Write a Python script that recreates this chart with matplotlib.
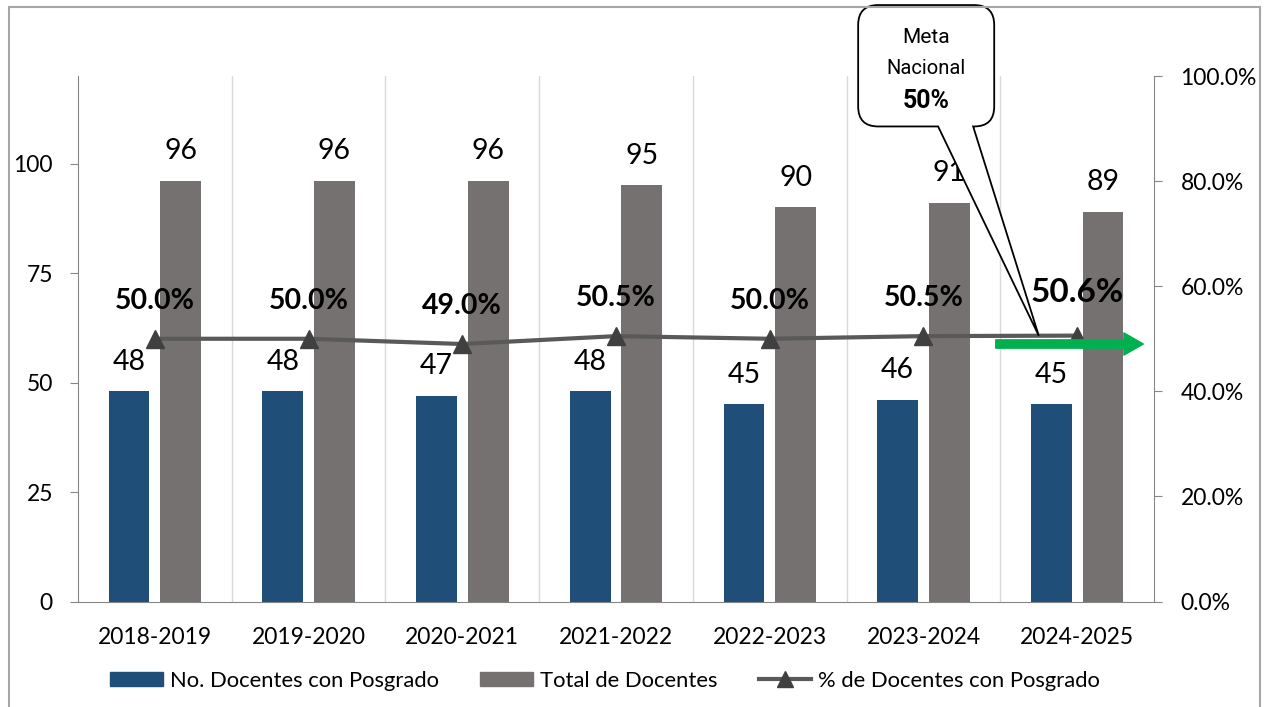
import numpy as np
import matplotlib
matplotlib.use('Agg')
import matplotlib.pyplot as plt
from matplotlib.patches import Rectangle, PathPatch, FancyArrowPatch, Patch
from matplotlib.lines import Line2D
from matplotlib.path import Path
from matplotlib.ticker import PercentFormatter

plt.rcParams['font.family'] = ['Lato', 'DejaVu Sans']

periodos = ['2018-2019', '2019-2020', '2020-2021', '2021-2022', '2022-2023', '2023-2024', '2024-2025']
docentes_posgrado = [48, 48, 47, 48, 45, 46, 45]
total_docentes = [96, 96, 96, 95, 90, 91, 89]
pct_posgrado = [0.500, 0.500, 0.490, 0.505, 0.500, 0.505, 0.506]
pct_labels = ['50.0%', '50.0%', '49.0%', '50.5%', '50.0%', '50.5%', '50.6%']

COLOR_AZUL = '#1F4E79'
COLOR_GRIS = '#767171'
COLOR_LINEA = '#595959'
COLOR_EJE = '#868686'

fig = plt.figure(figsize=(12.66, 7.07), dpi=100)
ax = fig.add_axes([0.0616, 0.1492, 0.85, 0.7433])
x = np.arange(len(periodos))
w = 0.265
off = 0.168

ax.bar(x - off, docentes_posgrado, w, color=COLOR_AZUL, zorder=2)
ax.bar(x + off, total_docentes, w, color=COLOR_GRIS, zorder=2)
for xi, v in zip(x, docentes_posgrado):
    ax.text(xi - off, v + 6.8, str(v), ha='center', va='center', fontsize=20.5)
for xi, v in zip(x, total_docentes):
    ax.text(xi + off, v + 6.8, str(v), ha='center', va='center', fontsize=20.5)

for b in np.arange(0.5, len(periodos) - 0.5):
    ax.axvline(b, color='#D9D9D9', lw=1, zorder=1)

ax.set_xlim(-0.5, len(periodos) - 0.5)
ax.set_ylim(0, 120)
ax.set_yticks([0, 25, 50, 75, 100])
ax.set_xticks(x)
ax.set_xticklabels(periodos, fontsize=16.5)
ax.tick_params(axis='x', length=0, pad=18)
ax.tick_params(axis='y', length=6, color=COLOR_EJE, labelsize=16.5, pad=12)
ax.spines['top'].set_visible(False)
ax.spines['right'].set_visible(False)
for s in ['left', 'bottom']:
    ax.spines[s].set_color(COLOR_EJE)

ax2 = ax.twinx()
ax2.plot(x, pct_posgrado, color=COLOR_LINEA, lw=3, marker='^', ms=13,
         mfc='#404040', mec='#404040', zorder=3)
for i, (xi, p, lab) in enumerate(zip(x, pct_posgrado, pct_labels)):
    ultimo = i == len(periodos) - 1
    ax2.text(xi, p + (0.082 if ultimo else 0.072), lab, ha='center', va='center',
             fontsize=24 if ultimo else 20.5, fontweight='bold')
ax2.set_ylim(0, 1.0)
ax2.set_yticks(np.arange(0, 1.01, 0.2))
ax2.yaxis.set_major_formatter(PercentFormatter(1.0, decimals=1))
ax2.tick_params(axis='y', length=6, color=COLOR_EJE, labelsize=16.5, pad=13)
ax2.spines['top'].set_visible(False)
ax2.spines['left'].set_visible(False)
ax2.spines['bottom'].set_visible(False)
ax2.spines['right'].set_color(COLOR_EJE)

# flecha verde de la meta
flecha = FancyArrowPatch((5.47, 0.49), (6.43, 0.49),
                         arrowstyle='simple,head_width=16,head_length=14,tail_width=6',
                         mutation_scale=1, color='#00B050', shrinkA=0, shrinkB=0,
                         transform=ax2.transData, zorder=5, clip_on=False)
ax2.add_patch(flecha)

# globo "Meta Nacional"
left, right, top, bot = 4.575, 5.46, 1.135, 0.904
rx, ry = 0.13, 0.038
tip_x = 5.75
tip_y = np.interp(tip_x, x, pct_posgrado)
verts = [
    (left + rx, top), (right - rx, top),
    (right, top), (right, top - ry),
    (right, bot + ry),
    (right, bot), (right - rx, bot),
    (5.323, bot), (tip_x, tip_y), (5.095, bot),
    (left + rx, bot),
    (left, bot), (left, bot + ry),
    (left, top - ry),
    (left, top), (left + rx, top),
    (left + rx, top),
]
codes = [Path.MOVETO, Path.LINETO,
         Path.CURVE3, Path.CURVE3,
         Path.LINETO,
         Path.CURVE3, Path.CURVE3,
         Path.LINETO, Path.LINETO, Path.LINETO,
         Path.LINETO,
         Path.CURVE3, Path.CURVE3,
         Path.LINETO,
         Path.CURVE3, Path.CURVE3,
         Path.CLOSEPOLY]
globo = PathPatch(Path(verts, codes), fc='white', ec='black', lw=1.3,
                  transform=ax2.transData, clip_on=False, zorder=6)
ax2.add_patch(globo)
fuente_globo = ['Roboto', 'DejaVu Sans']
cx = (left + right) / 2
ax2.text(cx, 1.074, 'Meta', ha='center', va='center', fontsize=15,
         family=fuente_globo, zorder=7, clip_on=False)
ax2.text(cx, 1.015, 'Nacional', ha='center', va='center', fontsize=14.5,
         family=fuente_globo, zorder=7, clip_on=False)
ax2.text(cx, 0.952, '50%', ha='center', va='center', fontsize=18, fontweight='bold',
         family=fuente_globo, zorder=7, clip_on=False)

handles = [
    Patch(color=COLOR_AZUL, label='No. Docentes con Posgrado'),
    Patch(color=COLOR_GRIS, label='Total de Docentes'),
    Line2D([], [], color=COLOR_LINEA, lw=3, marker='^', ms=11, mfc='#404040',
           mec='#404040', label='% de Docentes con Posgrado'),
]
fig.legend(handles=handles, loc='center', bbox_to_anchor=(0.478, 0.037), ncol=3,
           frameon=False, fontsize=15.8, handlelength=2.4, handleheight=0.65,
           handletextpad=0.3, columnspacing=1.9)

# marco exterior
fig.patches.append(Rectangle((0.0071, -0.01), 0.9882, 1.0001, transform=fig.transFigure,
                             fill=False, ec='#A6A6A6', lw=1.5))

fig.savefig('out.png', dpi=100)
